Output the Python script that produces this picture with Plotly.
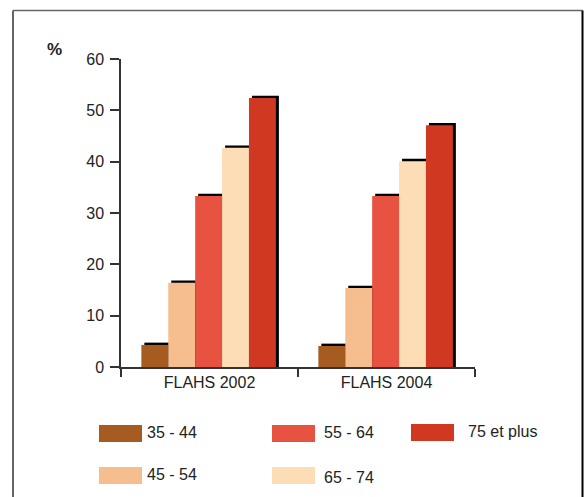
import plotly.graph_objects as go

# ---------------- data ----------------
categories = ["FLAHS 2002", "FLAHS 2004"]
age_groups = ["35 - 44", "45 - 54", "55 - 64", "65 - 74", "75 et plus"]
values_35_44 = [4.3, 4.1]
values_45_54 = [16.4, 15.4]
values_55_64 = [33.3, 33.3]
values_65_74 = [42.7, 40.1]
values_75_plus = [52.4, 47.1]
y_tick_values = [0, 10, 20, 30, 40, 50, 60]
y_axis_title = "%"

series_values = [values_35_44, values_45_54, values_55_64, values_65_74, values_75_plus]
colors = ["#A65B21", "#F6BD8F", "#E85341", "#FCDDB6", "#D13822"]

# ---------------- geometry / style ----------------
W, H = 586, 497
M_L, M_R, M_T, M_B = 121, 111, 59, 130
PW, PH = W - M_L - M_R, H - M_T - M_B

def px_x(px):
    return (px - M_L) / PW

def px_y(py):
    return (H - M_B - py) / PH

FONT = "Liberation Sans, Arial, sans-serif"
TEXT = "#222222"
bar_w = 0.152
group_start = -0.385
shadow_dx = 0.017
shadow_dy = 0.45

fig = go.Figure()

# shadows first (drawn below)
for i, vals in enumerate(series_values):
    fig.add_trace(go.Bar(
        x=categories, y=[v + shadow_dy for v in vals], base=0,
        width=bar_w, offset=group_start + i * bar_w + shadow_dx,
        marker=dict(color="#000000", line=dict(width=0)),
        showlegend=False, hoverinfo="skip"))

for i, (name, vals) in enumerate(zip(age_groups, series_values)):
    fig.add_trace(go.Bar(
        x=categories, y=vals, name=name,
        width=bar_w, offset=group_start + i * bar_w,
        marker=dict(color=colors[i], line=dict(width=0)),
        showlegend=False))

# frame lines
shapes = [
    dict(type="line", xref="paper", yref="paper", x0=px_x(13), x1=px_x(13), y0=px_y(10.5), y1=px_y(H + 5),
         line=dict(color="#333333", width=1.5)),
    dict(type="line", xref="paper", yref="paper", x0=px_x(13), x1=px_x(582.5), y0=px_y(10.5), y1=px_y(10.5),
         line=dict(color="#666666", width=1.5)),
    dict(type="line", xref="paper", yref="paper", x0=px_x(582.5), x1=px_x(582.5), y0=px_y(10.5), y1=px_y(H + 5),
         line=dict(color="#000000", width=2)),
]

# custom legend
legend_slots = [  # (swatch left px, swatch top px, text left px, text center y px)
    (99, 425, 145, 432),
    (99, 467, 145, 474),
    (272, 425, 322, 432),
    (272, 467, 322, 477),
    (411, 424, 466, 431),
]
annotations = []
for (sx, sy, tx, ty), name, col in zip(legend_slots, age_groups, colors):
    shapes.append(dict(type="rect", xref="paper", yref="paper",
                       x0=px_x(sx), x1=px_x(sx + 43), y0=px_y(sy + 17), y1=px_y(sy),
                       fillcolor=col, line=dict(width=0)))
    annotations.append(dict(xref="paper", yref="paper", x=px_x(tx), y=px_y(ty),
                            text=name, showarrow=False, xanchor="left", yanchor="middle",
                            font=dict(family=FONT, size=16, color=TEXT)))

annotations.append(dict(xref="paper", yref="paper", x=px_x(54.5), y=px_y(50),
                        text="<b>" + y_axis_title + "</b>", showarrow=False,
                        xanchor="center", yanchor="middle",
                        font=dict(family=FONT, size=17, color=TEXT)))

fig.update_layout(
    width=W, height=H,
    margin=dict(l=M_L, r=M_R, t=M_T, b=M_B, pad=0),
    paper_bgcolor="white", plot_bgcolor="white",
    barmode="overlay",
    shapes=shapes, annotations=annotations,
    font=dict(family=FONT, size=16, color=TEXT),
    xaxis=dict(type="category", range=[-0.5, 1.5], showgrid=False, zeroline=False,
               showline=True, linecolor="#333333", linewidth=1.5,
               ticks="outside", tickson="boundaries", ticklen=8, tickcolor="#333333", tickwidth=1.5,
               tickfont=dict(family=FONT, size=16, color=TEXT)),
    yaxis=dict(range=[0, 60], tickvals=y_tick_values, showgrid=False, zeroline=False,
               showline=True, linecolor="#333333", linewidth=1.5,
               ticks="outside", ticklen=9, tickcolor="#333333", tickwidth=1.5,
               ticklabelstandoff=3,
               tickfont=dict(family=FONT, size=16, color=TEXT)),
)

fig.write_html("out.html",
               config={"displayModeBar": False},
               post_script="document.body.style.margin='0';document.body.style.padding='0';document.body.style.overflow='hidden';")
